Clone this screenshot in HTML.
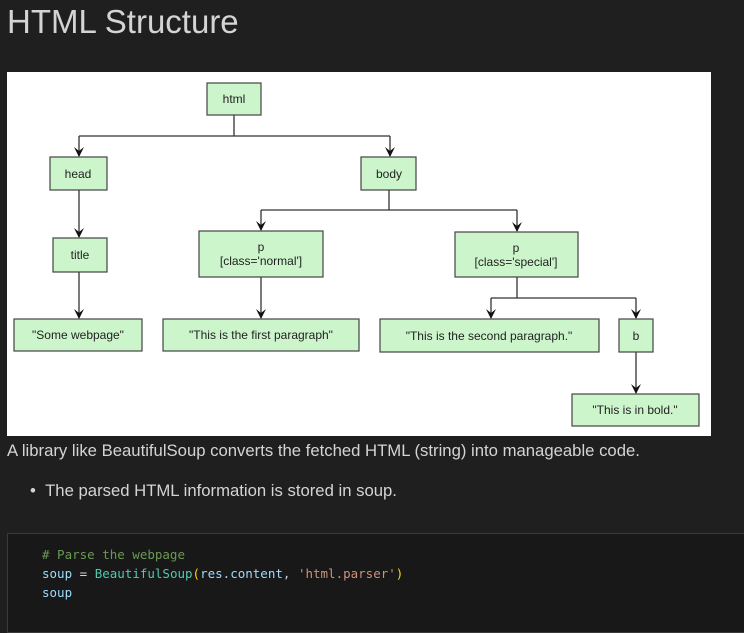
<!DOCTYPE html>
<html><head><style>
body{margin:0;background:#1f1f1f;width:744px;height:622px;overflow:hidden;font-family:"Liberation Sans",sans-serif;color:#ccc;position:relative}
.t{position:absolute;left:7px;top:3px;font-size:33px;color:#d4d4d4}
.p{position:absolute;font-size:16.7px;color:#d4d4d4}
.code{position:absolute;left:7px;top:533px;width:760px;height:100px;background:#181818;border:1px solid #3a3a3a;font-family:"DejaVu Sans Mono","Liberation Mono",monospace;font-size:12.5px;line-height:19px;padding:11px 0 0 34px;box-sizing:border-box}
</style></head><body>
<div class="t">HTML Structure</div>
<svg style="position:absolute;left:7px;top:72px" width="704" height="364" viewBox="7 72 704 364">
<rect x="7" y="72" width="704" height="364" fill="#fff"/>
<g stroke="#333" stroke-width="1.3" fill="none">
<path d="M234,115 V136 M79,136 H390"/>
<path d="M79,136 V156"/>
<path d="M390,136 V156"/>
<path d="M79,190 V237"/>
<path d="M79,272 V318"/>
<path d="M389,190 V210 M261,210 H517"/>
<path d="M261,210 V230"/>
<path d="M517,210 V231"/>
<path d="M261,277 V318"/>
<path d="M517,277 V298 M491,298 H636"/>
<path d="M491,298 V318"/>
<path d="M636,298 V318"/>
<path d="M636,352 V393"/>
</g>
<g fill="#111">
<path d="M74,147 L79,157 L84,147 L79,151 Z"/>
<path d="M385,147 L390,157 L395,147 L390,151 Z"/>
<path d="M74,228 L79,238 L84,228 L79,232 Z"/>
<path d="M74,309 L79,319 L84,309 L79,313 Z"/>
<path d="M256,221 L261,231 L266,221 L261,225 Z"/>
<path d="M512,222 L517,232 L522,222 L517,226 Z"/>
<path d="M256,309 L261,319 L266,309 L261,313 Z"/>
<path d="M486,309 L491,319 L496,309 L491,313 Z"/>
<path d="M631,309 L636,319 L641,309 L636,313 Z"/>
<path d="M631,384 L636,394 L641,384 L636,388 Z"/>
</g>
<g fill="#ccf5cc" stroke="#444" stroke-width="1.2">
<rect x="207" y="83" width="54" height="32"/>
<rect x="50" y="157" width="57" height="33"/>
<rect x="361" y="157" width="55" height="33"/>
<rect x="53" y="238" width="54" height="34"/>
<rect x="199" y="231" width="124" height="46"/>
<rect x="455" y="232" width="123" height="45"/>
<rect x="14" y="319" width="128" height="32"/>
<rect x="163" y="319" width="196" height="32"/>
<rect x="380" y="319" width="219" height="33"/>
<rect x="619" y="319" width="34" height="33"/>
<rect x="572" y="394" width="127" height="32"/>
</g>
<g font-family="Liberation Sans,sans-serif" font-size="12" fill="#222" text-anchor="middle">
<text x="234" y="103">html</text>
<text x="78" y="178">head</text>
<text x="389" y="178">body</text>
<text x="80" y="259">title</text>
<text x="261" y="251">p</text><text x="261" y="265">[class='normal']</text>
<text x="516" y="252">p</text><text x="516" y="266">[class='special']</text>
<text x="78" y="339">"Some webpage"</text>
<text x="261" y="339">"This is the first paragraph"</text>
<text x="489" y="340">"This is the second paragraph."</text>
<text x="636" y="340">b</text>
<text x="635" y="414">"This is in bold."</text>
</g>
</svg>
<div class="p" style="left:7px;top:441px">A library like BeautifulSoup converts the fetched HTML (string) into manageable code.</div>
<div class="p" style="left:30px;top:481px">•&nbsp;&nbsp;The parsed HTML information is stored in soup.</div>
<div class="code"><div style="color:#6a9955"># Parse the webpage</div><div><span style="color:#9cdcfe">soup</span> <span style="color:#d4d4d4">=</span> <span style="color:#4ec9b0">BeautifulSoup</span><span style="color:#ffd700">(</span><span style="color:#9cdcfe">res</span>.<span style="color:#9cdcfe">content</span>, <span style="color:#ce9178">'html.parser'</span><span style="color:#ffd700">)</span></div><div style="color:#9cdcfe">soup</div></div>
</body></html>
